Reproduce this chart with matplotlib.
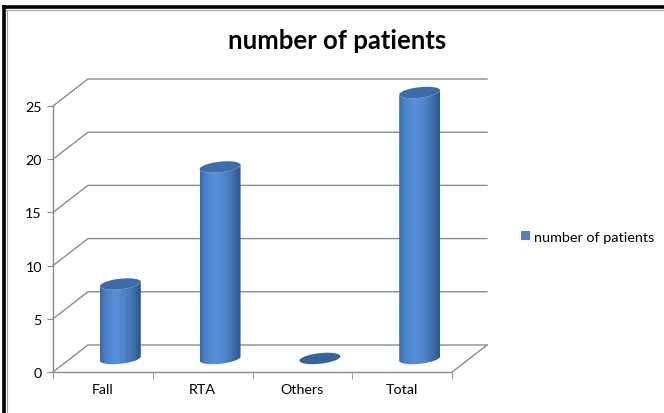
import numpy as np
import matplotlib
matplotlib.use("Agg")
import matplotlib.pyplot as plt
from matplotlib.patches import Polygon, Patch
from matplotlib.colors import LinearSegmentedColormap
from matplotlib.lines import Line2D

plt.rcParams['font.family'] = ['Lato', 'DejaVu Sans']

categories = ['Fall', 'RTA', 'Others', 'Total']
patients = [7, 18, 0, 25]
yticks = [0, 5, 10, 15, 20, 25]
series_name = 'number of patients'

# depth of the 3D box, in data units (category units / value units)
DX, DY = 0.35, 2.54
RAD_X, RAD_Y, TILT = 0.205, 0.50, 0.20
GRID = '#8c8c8c'

fig = plt.figure(figsize=(6.64, 4.14), dpi=100)
ax = fig.add_axes([53 / 664, 41 / 414, 434 / 664, 293 / 414])
ax.set_xlim(0, len(categories) + DX)
ax.set_ylim(0, yticks[-1] + DY)

# spines -> front y axis and floor edge
for s in ['top', 'right']:
    ax.spines[s].set_visible(False)
ax.spines['left'].set_bounds(0, yticks[-1])
ax.spines['bottom'].set_bounds(0, len(categories))
for s in ['left', 'bottom']:
    ax.spines[s].set_color(GRID)
    ax.spines[s].set_linewidth(1.0)

ax.set_yticks(yticks)
ax.set_xticks(np.arange(len(categories)) + 0.5)
ax.set_xticklabels(categories)
ax.set_xticks(np.arange(len(categories) + 1), minor=True)
ax.tick_params(axis='y', direction='out', length=4, color=GRID, labelsize=10.3, pad=4)
ax.tick_params(axis='x', which='major', length=0, labelsize=10.3, pad=8)
ax.tick_params(axis='x', which='minor', direction='out', length=5, color=GRID)

# side wall diagonals and back wall gridlines
n = len(categories)
for v in yticks:
    ax.plot([0, DX, n + DX], [v, v + DY, v + DY], color=GRID, lw=1.0, clip_on=False)
ax.plot([n, n + DX], [0, DY], color=GRID, lw=1.0, clip_on=False)

# horizontal shading across a cylinder body
shade = LinearSegmentedColormap.from_list('cyl', [
    (0.0, '#3868a8'), (0.12, '#4a80c6'), (0.38, '#5a90da'),
    (0.62, '#4f84c9'), (0.85, '#3b6aa6'), (1.0, '#2d558b')])
grad = np.linspace(0, 1, 256).reshape(1, -1)


def ellipse_pts(cx, cy, t):
    return np.column_stack([cx + RAD_X * np.cos(t),
                            cy + RAD_Y * np.sin(t) + TILT * np.cos(t)])


for i, val in enumerate(patients):
    cx = i + 0.5 + DX / 2
    base = DY / 2
    top = base + val
    lower = np.linspace(np.pi, 2 * np.pi, 60)
    if val > 0:
        body = np.vstack([ellipse_pts(cx, base, lower),
                          ellipse_pts(cx, top, lower[::-1])])
        poly = Polygon(body, closed=True, facecolor='none', edgecolor='none')
        ax.add_patch(poly)
        im = ax.imshow(grad, cmap=shade, aspect='auto', interpolation='bilinear',
                       extent=[cx - RAD_X, cx + RAD_X, base - RAD_Y - TILT, top + RAD_Y + TILT],
                       zorder=3)
        im.set_clip_path(poly)
        cap_color = '#3f6ca8'
    else:
        cap_color = '#3a6398'
    cap = ellipse_pts(cx, top, np.linspace(0, 2 * np.pi, 120))
    ax.add_patch(Polygon(cap, closed=True, facecolor=cap_color, edgecolor='none', zorder=4))

ax.set_xlim(0, n + DX)
ax.set_ylim(0, yticks[-1] + DY)

fig.text(337 / 664, 1 - 41 / 414, series_name, ha='center', va='center',
         fontsize=18.5, fontweight='bold')

fig.legend(handles=[Patch(facecolor='#4f81bd', edgecolor='none', label=series_name)],
           loc='center left', bbox_to_anchor=(521 / 664, 1 - 238 / 414), frameon=False,
           fontsize=10.4, handlelength=0.6, handleheight=0.6, handletextpad=0.3,
           borderpad=0, borderaxespad=0)

# outer frame: thick top and left edges
fig.add_artist(Line2D([4 / 664, 1], [1 - 8 / 414, 1 - 8 / 414], color='black', lw=2.6))
fig.add_artist(Line2D([4 / 664, 4 / 664], [0, 1 - 8 / 414], color='black', lw=2.6))
fig.add_artist(Line2D([6 / 664, 1], [1 - 10.5 / 414, 1 - 10.5 / 414], color='#a0a0a0', lw=0.8))
fig.add_artist(Line2D([6.5 / 664, 6.5 / 664], [0, 1 - 10.5 / 414], color='#a0a0a0', lw=0.8))

fig.savefig('out.png', dpi=100)
